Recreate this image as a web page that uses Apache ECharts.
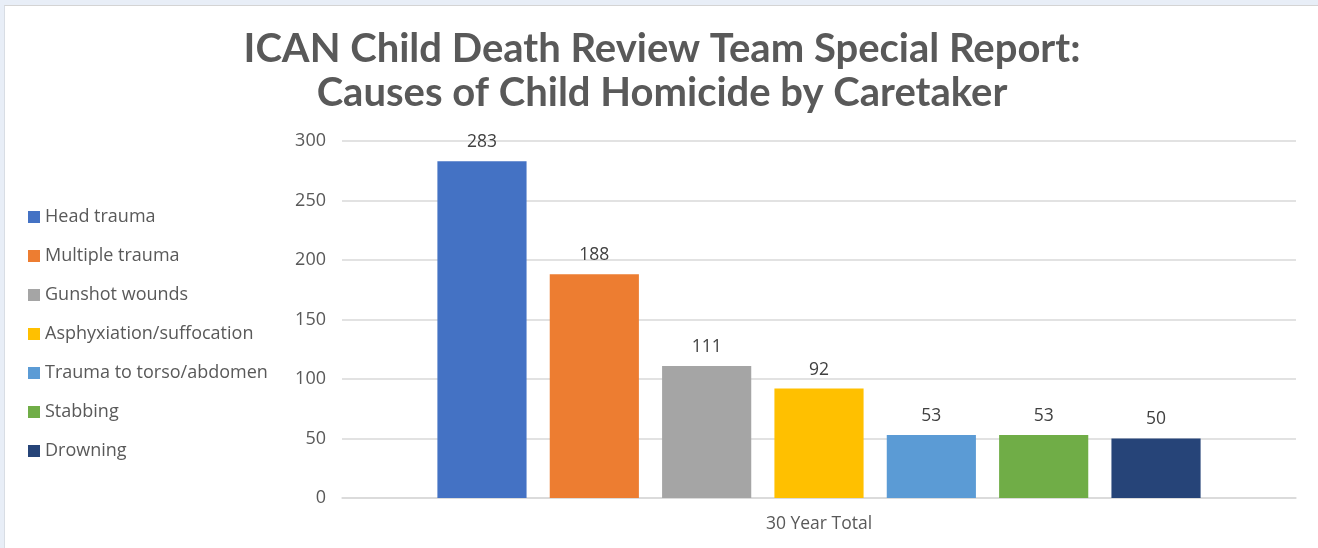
<!DOCTYPE html>
<html>
<head>
<meta charset="utf-8">
<script src="https://cdn.jsdelivr.net/npm/echarts@6/dist/echarts.min.js"></script>
<style>
  html, body { margin: 0; padding: 0; background: #e8eef7; }
  #frame { position: absolute; left: 4px; top: 5px; width: 1314px; height: 543px; background: #fff; border-top: 1px solid #d4d4d4; border-left: 1px solid #d8dde4; }
  #chart { width: 1314px; height: 543px; }
</style>
</head>
<body>
<div id="frame"><div id="chart"></div></div>
<script>
const categories = ['30 Year Total'];
const causes = ['Head trauma', 'Multiple trauma', 'Gunshot wounds', 'Asphyxiation/suffocation', 'Trauma to torso/abdomen', 'Stabbing', 'Drowning'];
const counts = [283, 188, 111, 92, 53, 53, 50];
const colors = ['#4472c4', '#ed7d31', '#a5a5a5', '#ffc000', '#5b9bd5', '#70ad47', '#264478'];
const yTicks = [0, 50, 100, 150, 200, 250, 300];

const chart = echarts.init(document.getElementById('chart'));

const series = causes.map((name, i) => ({
  name: name,
  type: 'bar',
  data: [counts[i]],
  barGap: '26%',
  barCategoryGap: '20%',
  itemStyle: { color: colors[i] },
  label: {
    show: true,
    position: 'top',
    distance: 10,
    color: '#404040',
    fontSize: 17.5,
    fontFamily: 'Open Sans'
  }
}));

chart.setOption({
  animation: false,
  title: {
    text: 'ICAN Child Death Review Team Special Report:\nCauses of Child Homicide by Caretaker',
    left: 'center',
    top: 16,
    textStyle: {
      fontFamily: 'Lato',
      fontWeight: 'bold',
      fontSize: 40,
      lineHeight: 44,
      color: '#595959'
    }
  },
  legend: {
    orient: 'vertical',
    left: 18,
    top: 197,
    itemWidth: 12,
    itemHeight: 12,
    itemGap: 21,
    icon: 'rect',
    textStyle: { fontFamily: 'Open Sans', fontSize: 18, lineHeight: 18, color: '#595959' },
    data: causes
  },
  grid: { left: 337, right: 23, top: 135, bottom: 51 },
  xAxis: {
    type: 'category',
    data: categories,
    axisLine: { lineStyle: { color: '#d9d9d9', width: 1.5 } },
    axisTick: { show: false },
    axisLabel: { color: '#595959', fontSize: 17.5, fontFamily: 'Open Sans', margin: 17 }
  },
  yAxis: {
    type: 'value',
    min: yTicks[0],
    max: yTicks[yTicks.length - 1],
    interval: 50,
    axisLine: { show: false },
    axisTick: { show: false },
    splitLine: { lineStyle: { color: '#d9d9d9', width: 1.5 } },
    axisLabel: { color: '#595959', fontSize: 18, fontFamily: 'Open Sans', margin: 16 }
  },
  series: series
});
</script>
</body>
</html>
